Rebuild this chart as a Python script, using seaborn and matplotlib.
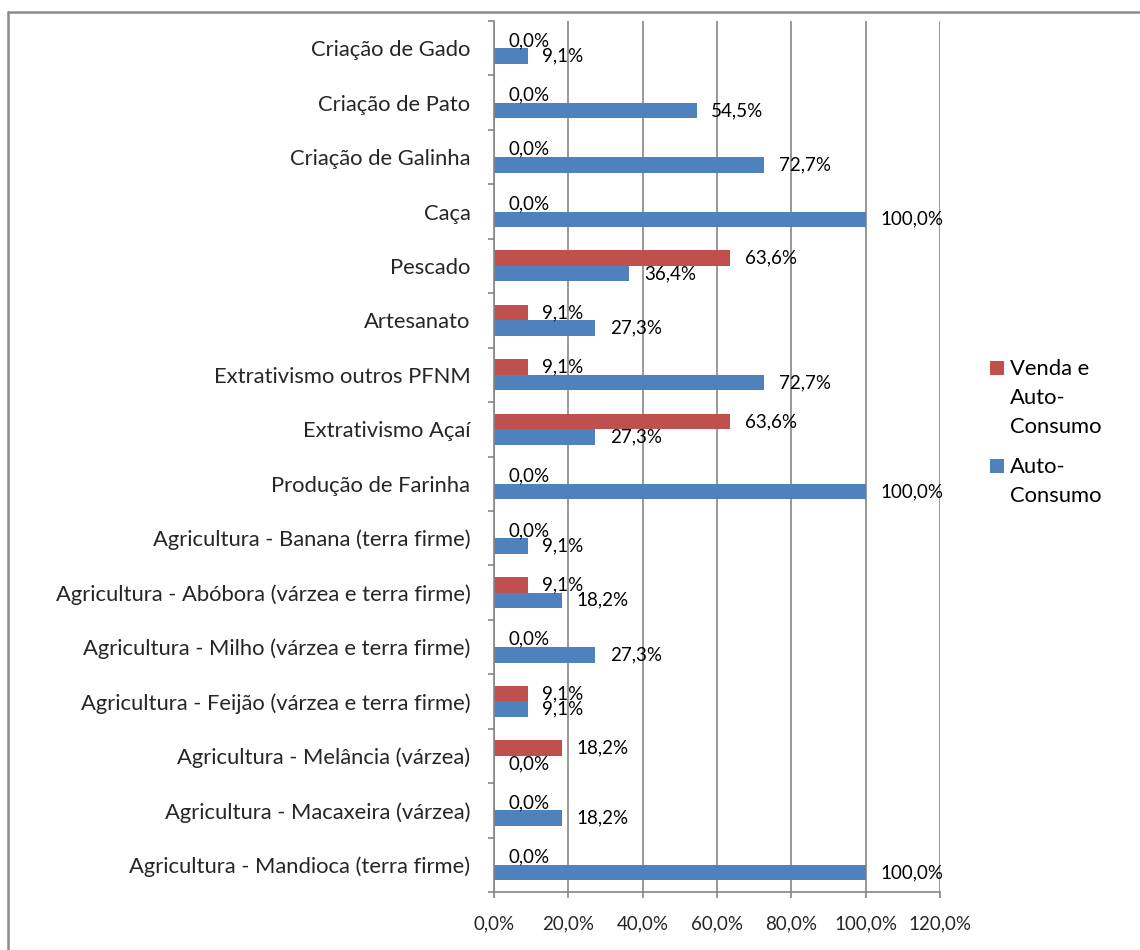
import matplotlib
matplotlib.use("Agg")
import matplotlib.pyplot as plt
import seaborn as sns
import pandas as pd
from matplotlib.lines import Line2D
from matplotlib.patches import Rectangle
from matplotlib.ticker import FixedLocator

categories = [
    "Criação de Gado",
    "Criação de Pato",
    "Criação de Galinha",
    "Caça",
    "Pescado",
    "Artesanato",
    "Extrativismo outros PFNM",
    "Extrativismo Açaí",
    "Produção de Farinha",
    "Agricultura - Banana (terra firme)",
    "Agricultura - Abóbora (várzea e terra firme)",
    "Agricultura - Milho (várzea e terra firme)",
    "Agricultura - Feijão (várzea e terra firme)",
    "Agricultura - Melância (várzea)",
    "Agricultura - Macaxeira (várzea)",
    "Agricultura - Mandioca (terra firme)",
]
venda_auto = [0.0, 0.0, 0.0, 0.0, 63.6, 9.1, 9.1, 63.6, 0.0, 0.0, 9.1, 0.0, 9.1, 18.2, 0.0, 0.0]
auto_consumo = [9.1, 54.5, 72.7, 100.0, 36.4, 27.3, 72.7, 27.3, 100.0, 9.1, 18.2, 27.3, 9.1, 0.0, 18.2, 100.0]
series_names = ["Venda e Auto-Consumo", "Auto-Consumo"]
legend_labels = ["Venda e\nAuto-\nConsumo", "Auto-\nConsumo"]
x_ticks = [0, 20, 40, 60, 80, 100, 120]

colors = ["#C0504D", "#4F81BD"]
grid_color = "#868686"

df = pd.DataFrame({
    "categoria": categories * 2,
    "serie": [series_names[0]] * len(categories) + [series_names[1]] * len(categories),
    "valor": venda_auto + auto_consumo,
})

sns.set_theme(style="white")
plt.rcParams["font.family"] = ["Lato", "DejaVu Sans"]

W, H = 1140, 950
fig = plt.figure(figsize=(11.4, 9.5), dpi=100)
ax = fig.add_axes([494 / W, 1 - 892 / H, (940 - 494) / W, (892 - 21) / H])

sns.barplot(data=df, y="categoria", x="valor", hue="serie", order=categories,
            hue_order=series_names, palette=colors, orient="h", width=0.57,
            gap=0, saturation=1, ax=ax, legend=False, linewidth=0)

fs_num = 13.5
fs_txt = 15.8
fmt = lambda v: f"{v:.1f}%".replace(".", ",")
for cont in ax.containers:
    ax.bar_label(cont, labels=[fmt(b.get_width()) for b in cont], padding=10.5,
                 fontsize=fs_num, color="black")

ax.set_xlim(0, 120)
ax.set_ylim(len(categories) - 0.5, -0.5)
ax.set_xticks(x_ticks)
ax.set_xticklabels([fmt(t) for t in x_ticks], fontsize=fs_num)
ax.set_xlabel("")
ax.set_ylabel("")
ax.tick_params(axis="y", which="major", length=0, pad=17, labelsize=fs_txt)
ax.yaxis.set_minor_locator(FixedLocator([i - 0.5 for i in range(len(categories) + 1)]))
ax.tick_params(axis="y", which="minor", length=4.5, width=1.2, color=grid_color, direction="out", left=True)
ax.tick_params(axis="x", which="major", length=4.5, width=1.2, color=grid_color, direction="out", pad=12, bottom=True)

ax.xaxis.grid(True, color=grid_color, linewidth=1.2)
ax.yaxis.grid(False)
ax.set_axisbelow(True)
for s in ["top", "right"]:
    ax.spines[s].set_visible(False)
for s in ["left", "bottom"]:
    ax.spines[s].set_color(grid_color)
    ax.spines[s].set_linewidth(1.2)

# legend (handle aligned with first text line, as in the reference)
legend_tops = [361, 459]
for top, lab, c in zip(legend_tops, legend_labels, colors):
    fig.add_artist(Rectangle((990 / W, 1 - (top + 14) / H), 14 / W, 14 / H,
                             transform=fig.transFigure, facecolor=c, edgecolor="none"))
    fig.text(1010 / W, 1 - (top - 2) / H, lab, ha="left", va="top", fontsize=fs_txt,
             linespacing=1.55, color="black")

fig.add_artist(Line2D([8 / W, 1.0], [1 - 12 / H, 1 - 12 / H], transform=fig.transFigure,
                      color="#8c8c8c", linewidth=1.8))
fig.add_artist(Line2D([8 / W, 8 / W], [0.0, 1 - 12 / H], transform=fig.transFigure,
                      color="#8c8c8c", linewidth=1.8))

fig.savefig("out.png", dpi=100, facecolor="white")
